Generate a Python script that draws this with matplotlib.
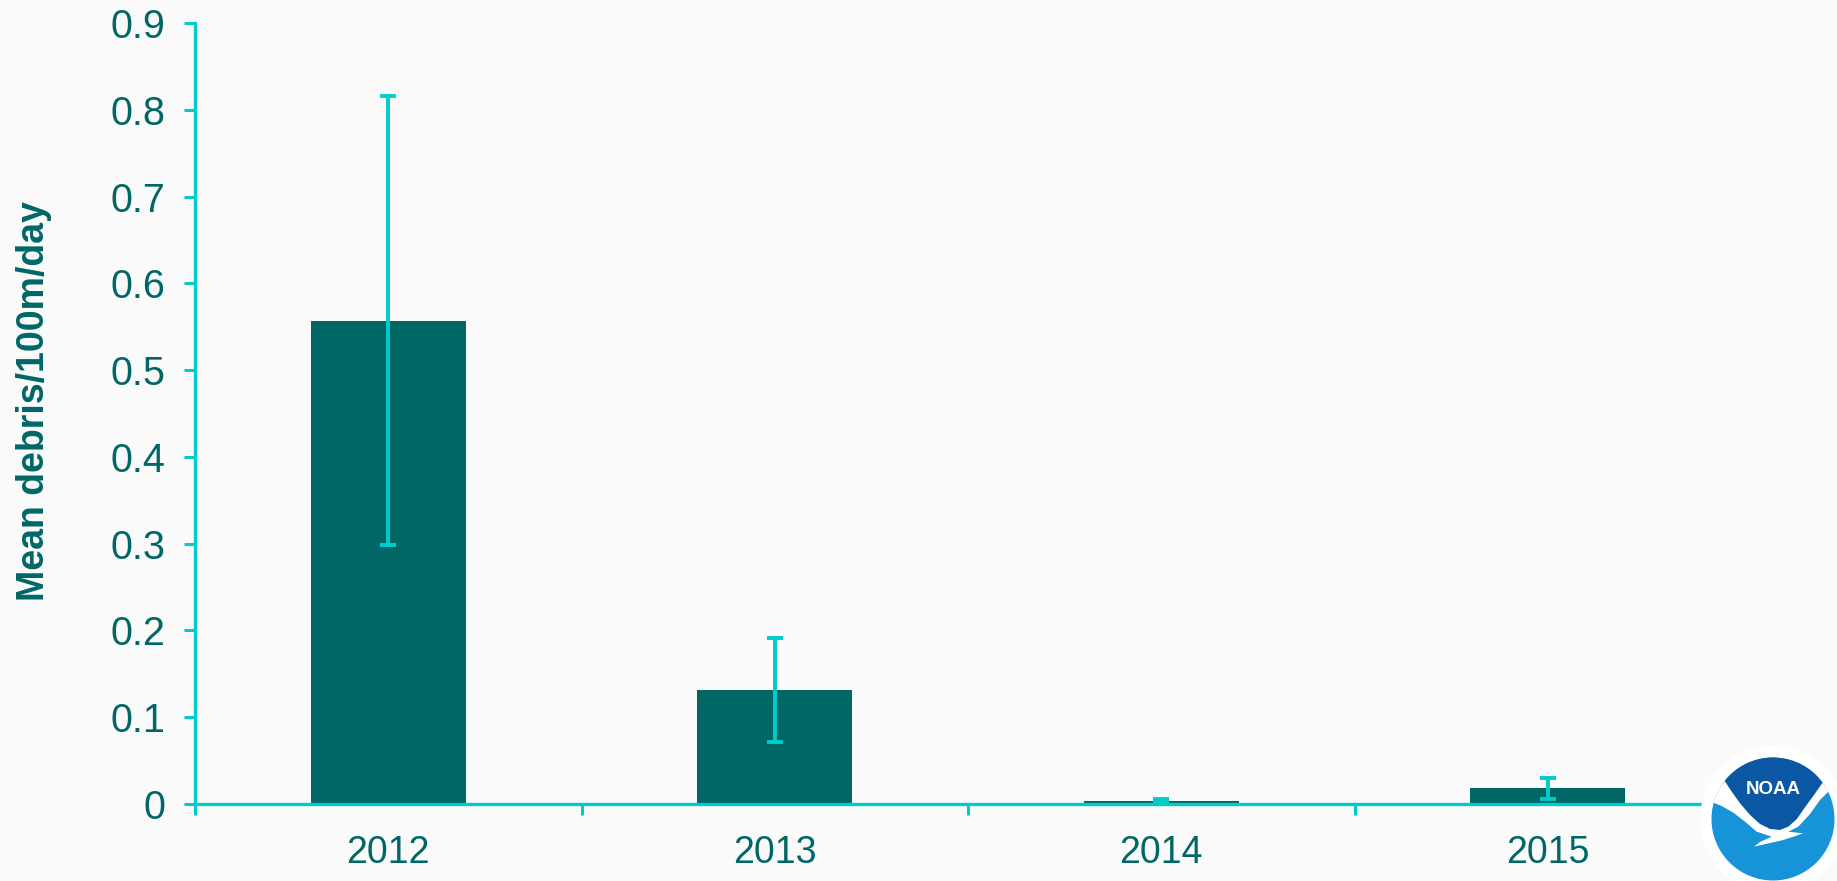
import matplotlib
matplotlib.use('Agg')
import matplotlib.pyplot as plt
from matplotlib.patches import Circle, PathPatch
from matplotlib.path import Path

plt.rcParams['font.family'] = ['Liberation Sans', 'DejaVu Sans']

years = ['2012', '2013', '2014', '2015']
means = [0.557, 0.131, 0.004, 0.018]
err_low = [0.259, 0.059, 0.002, 0.012]
err_high = [0.259, 0.060, 0.002, 0.012]
y_ticks = [0, 0.1, 0.2, 0.3, 0.4, 0.5, 0.6, 0.7, 0.8, 0.9]
y_labels = ['0', '0.1', '0.2', '0.3', '0.4', '0.5', '0.6', '0.7', '0.8', '0.9']

W, H = 1837, 881
bg = '#fafafa'
dark = '#006666'
teal = '#00cccc'

fig = plt.figure(figsize=(W / 100, H / 100), dpi=100, facecolor=bg)
ax = fig.add_axes([195 / W, 1 - 804 / H, (1741 - 195) / W, (804 - 23) / H])
ax.set_facecolor(bg)

x = list(range(len(years)))
ax.bar(x, means, width=0.4, color=dark, zorder=2)
ax.errorbar(x, means, yerr=[err_low, err_high], fmt='none', ecolor=teal,
            elinewidth=2.8, capsize=5.5, capthick=2.8, zorder=3)

ax.set_xlim(-0.5, 3.5)
ax.set_ylim(0, 0.9)
ax.set_xticks(x)
ax.set_xticklabels(years)
ax.set_xticks([-0.5, 0.5, 1.5, 2.5, 3.5], minor=True)
ax.set_yticks(y_ticks)
ax.set_yticklabels(y_labels)

for s in ['top', 'right']:
    ax.spines[s].set_visible(False)
for s in ['left', 'bottom']:
    ax.spines[s].set_color(teal)
    ax.spines[s].set_linewidth(2.4)
    ax.spines[s].set_zorder(4)

ax.tick_params(axis='x', which='major', length=0, pad=22, labelsize=27, labelcolor=dark)
ax.tick_params(axis='x', which='minor', length=8, width=2.2, color=teal)
ax.tick_params(axis='y', length=8, width=2.2, color=teal, pad=13, labelsize=28.5, labelcolor=dark)

fig.text(34 / W, 1 - 401 / H, 'Mean debris/100m/day', rotation=90, color=dark,
         fontsize=27, fontweight='bold', ha='center', va='center')


# logo traced in reference pixel coordinates
def blob(points, color, z, clip):
    verts = [(1650 + px / 3, 720 + py / 3) for px, py in points]
    codes = [Path.MOVETO] + [Path.LINETO] * (len(verts) - 2) + [Path.CLOSEPOLY]
    patch = PathPatch(Path(verts, codes), facecolor=color, lw=0, zorder=z)
    logo.add_patch(patch)
    patch.set_clip_path(clip)


logo = fig.add_axes([0, 0, 1, 1], facecolor='none')
logo.set_xlim(0, W)
logo.set_ylim(H, 0)
logo.axis('off')
cx, cy = 1773, 819
logo.add_patch(Circle((cx, cy), 73, color='#ffffff', lw=0, zorder=1))
sky = Circle((cx, cy), 61.5, color='#1793d8', lw=0, zorder=2)
logo.add_patch(sky)
edge = [(222, 180), (245, 215), (270, 250), (300, 285), (330, 312), (360, 327), (390, 330),
        (415, 320), (440, 298), (465, 262), (490, 228), (520, 185)]
blob([(150, 60), (590, 60), (590, 185)] + edge[::-1] + [(150, 180), (150, 60)],
     '#0b57a4', 3, sky)
blob(edge + [(570, 195), (570, 240), (535, 215), (510, 240), (480, 282), (445, 320), (415, 335),
             (460, 340), (400, 360), (312, 380), (330, 366), (365, 350), (320, 335), (285, 305),
             (250, 278), (215, 258), (170, 240), (170, 190), (222, 180)],
     '#ffffff', 4, sky)
logo.text(1773, 790, 'NOAA', color='#ffffff', fontsize=13.5, fontweight='bold',
          ha='center', va='center', zorder=5)

fig.savefig('out.png', dpi=100, facecolor=bg)
